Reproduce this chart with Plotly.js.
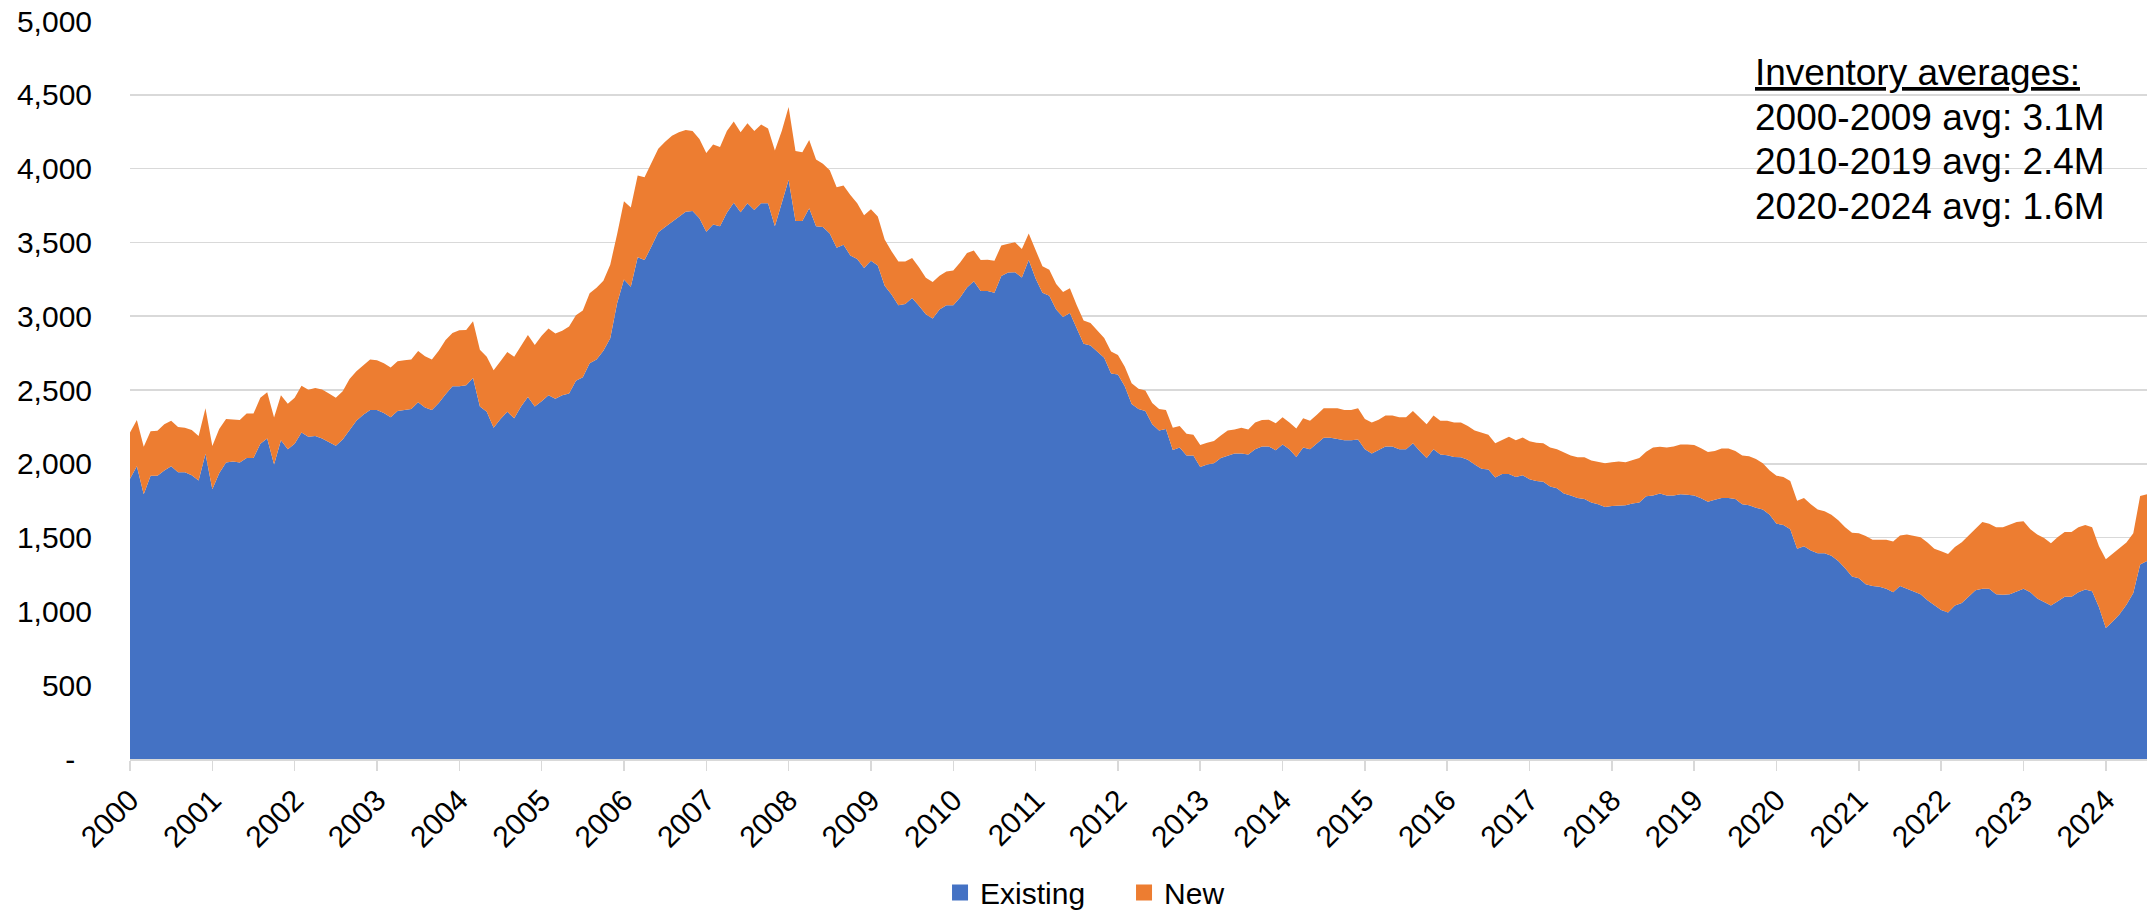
<!DOCTYPE html>
<html><head><meta charset="utf-8">
<script src="https://cdn.plot.ly/plotly-3.0.1.min.js"></script>
<style>html,body{margin:0;padding:0;background:#fff;}#chart{width:2151px;height:914px;}</style>
</head><body><div id="chart"></div>
<script>
// Monthly inventory, Jan 2000 - Jul 2024 (thousands)
const years = ['2000','2001','2002','2003','2004','2005','2006','2007','2008','2009','2010','2011','2012',
  '2013','2014','2015','2016','2017','2018','2019','2020','2021','2022','2023','2024'];

const existing = [
  1899,1984,1793,1919,1919,1955,1984,1943,1943,1923,1887,2068,
  1827,1936,2008,2015,2008,2039,2039,2135,2172,1996,2160,2099,
  2135,2212,2183,2188,2172,2147,2123,2164,2232,2292,2333,2364,
  2364,2345,2316,2357,2364,2371,2417,2381,2364,2412,2472,2525,
  2525,2533,2581,2388,2352,2244,2304,2352,2309,2388,2453,2388,
  2424,2465,2441,2465,2477,2562,2586,2682,2706,2766,2851,3087,
  3248,3200,3400,3380,3472,3568,3604,3640,3676,3708,3713,3664,
  3573,3621,3609,3701,3768,3705,3766,3720,3766,3766,3609,3761,
  3924,3645,3645,3732,3609,3604,3561,3464,3484,3412,3387,3327,
  3375,3344,3207,3147,3074,3082,3123,3070,3014,2985,3046,3074,
  3074,3127,3195,3236,3171,3171,3159,3272,3296,3298,3262,3380,
  3255,3159,3139,3046,2995,3022,2923,2814,2802,2761,2718,2612,
  2605,2525,2405,2371,2357,2268,2225,2236,2094,2111,2056,2056,
  1979,1996,2003,2039,2056,2070,2070,2063,2099,2118,2118,2092,
  2130,2099,2046,2111,2099,2140,2176,2176,2167,2160,2160,2164,
  2099,2070,2094,2118,2118,2099,2099,2140,2087,2039,2099,2063,
  2058,2046,2044,2027,1996,1967,1962,1907,1931,1931,1911,1923,
  1895,1883,1878,1846,1834,1798,1786,1769,1762,1738,1726,1707,
  1714,1719,1719,1731,1738,1780,1786,1798,1786,1786,1793,1791,
  1786,1767,1743,1757,1769,1769,1762,1726,1719,1702,1690,1654,
  1594,1586,1557,1425,1442,1413,1394,1394,1377,1341,1293,1237,
  1225,1184,1172,1167,1153,1129,1172,1153,1136,1117,1076,1040,
  1009,992,1040,1057,1100,1143,1153,1153,1117,1112,1117,1136,
  1153,1129,1088,1064,1040,1069,1100,1100,1129,1148,1136,1028,
  888,932,980,1045,1124,1317,1341
];

const newHomes = [
  313,313,323,301,305,313,308,306,301,306,301,308,
  294,300,296,287,289,301,301,313,312,318,305,308,
  313,316,318,325,332,330,325,328,342,335,337,342,
  337,337,337,337,337,335,347,347,342,354,367,362,
  379,373,385,385,373,390,390,405,416,414,419,417,
  443,451,441,436,453,445,452,474,486,475,498,469,
  530,537,553,561,566,566,578,583,571,554,541,537,
  532,542,537,553,551,542,541,534,532,505,513,493,
  494,474,465,462,453,429,428,410,402,409,379,357,
  350,332,313,293,297,289,272,262,246,246,228,229,
  236,236,233,209,209,212,216,207,195,203,193,181,
  193,180,176,173,169,168,151,157,152,145,135,149,
  132,133,140,138,140,144,146,128,150,145,147,140,
  149,147,152,152,169,162,174,169,181,179,181,183,
  186,181,193,198,193,193,200,200,209,204,204,212,
  205,210,205,210,210,217,217,217,227,229,229,229,
  234,234,236,229,229,241,234,233,233,253,249,256,
  257,260,262,265,265,277,270,275,282,284,289,296,
  296,296,291,296,301,301,325,318,325,332,337,339,
  342,339,337,330,335,335,325,330,332,330,313,301,
  325,325,326,325,327,313,296,284,277,277,277,296,
  304,326,313,318,332,344,342,368,378,385,390,385,
  399,397,397,411,414,419,453,441,453,458,469,470,
  458,428,433,433,421,435,438,438,441,438,434,414,
  465,457,445,421,405,464,452
];

const yTicks = [0,500,1000,1500,2000,2500,3000,3500,4000,4500,5000];
const noteLines = ['<u>Inventory averages:</u>','2000-2009 avg: 3.1M','2010-2019 avg: 2.4M','2020-2024 avg: 1.6M'];
const seriesNames = ['Existing','New'];
const colors = ['#4472C4','#ED7D31'];

const monthIdx = existing.map((_, i) => i);
const yearPos = years.map((_, i) => i * 12);
const yText = yTicks.map(v => v === 0 ? '-\u00A0\u00A0' : v.toLocaleString('en-US'));

const FONT = 'Liberation Sans, Arial, sans-serif';

const traces = [
  {x: monthIdx, y: existing, name: seriesNames[0], type: 'scatter', mode: 'lines',
   stackgroup: 'one', line: {width: 0, color: colors[0]}, fillcolor: colors[0], showlegend: false, hoverinfo: 'skip'},
  {x: monthIdx, y: newHomes, name: seriesNames[1], type: 'scatter', mode: 'lines',
   stackgroup: 'one', line: {width: 0, color: colors[1]}, fillcolor: colors[1], showlegend: false, hoverinfo: 'skip'},
  {x: [null], y: [null], name: seriesNames[0], type: 'scatter', mode: 'markers',
   marker: {symbol: 'square', size: 16, color: colors[0]}},
  {x: [null], y: [null], name: seriesNames[1], type: 'scatter', mode: 'markers',
   marker: {symbol: 'square', size: 16, color: colors[1]}}
];

const noteY = [0.9303, 0.8693, 0.8090, 0.7480];
const annotations = noteLines.map((t, i) => ({
  text: t, xref: 'paper', yref: 'paper', x: 0.8047, y: noteY[i],
  xanchor: 'left', yanchor: 'middle', showarrow: false,
  font: {family: FONT, size: 37, color: '#000'}
}));

const layout = {
  width: 2151, height: 914,
  margin: {l: 130, r: 4, t: 21, b: 155, pad: 0, autoexpand: false},
  paper_bgcolor: '#fff', plot_bgcolor: '#fff',
  font: {family: FONT, size: 30, color: '#000'},
  showlegend: true,
  legend: {orientation: 'h', traceorder: 'normal', entrywidth: 139, entrywidthmode: 'pixels',
           x: 0.4016, xanchor: 'left', y: -0.181, yanchor: 'middle',
           font: {family: FONT, size: 30, color: '#000'}, bgcolor: 'rgba(0,0,0,0)'},
  xaxis: {
    range: [0, existing.length - 1], tickmode: 'array', tickvals: yearPos, ticktext: years,
    tickangle: -45, ticks: 'outside', ticklen: 10, tickwidth: 1.5, tickcolor: '#D9D9D9',
    showline: true, linecolor: '#D9D9D9', linewidth: 1.5, showgrid: false, zeroline: false,
    tickfont: {family: FONT, size: 30, color: '#000'}, fixedrange: true, automargin: false
  },
  yaxis: {
    range: [0, 5000], tickmode: 'array', tickvals: yTicks, ticktext: yText,
    showgrid: true, gridcolor: '#D9D9D9', gridwidth: 1.5, zeroline: false, showline: false,
    ticks: '', ticklabelstandoff: 37, automargin: false,
    tickfont: {family: FONT, size: 30, color: '#000'}, fixedrange: true
  },
  annotations: annotations
};

Plotly.newPlot('chart', traces, layout, {displayModeBar: false, staticPlot: true});
</script>
</body></html>
